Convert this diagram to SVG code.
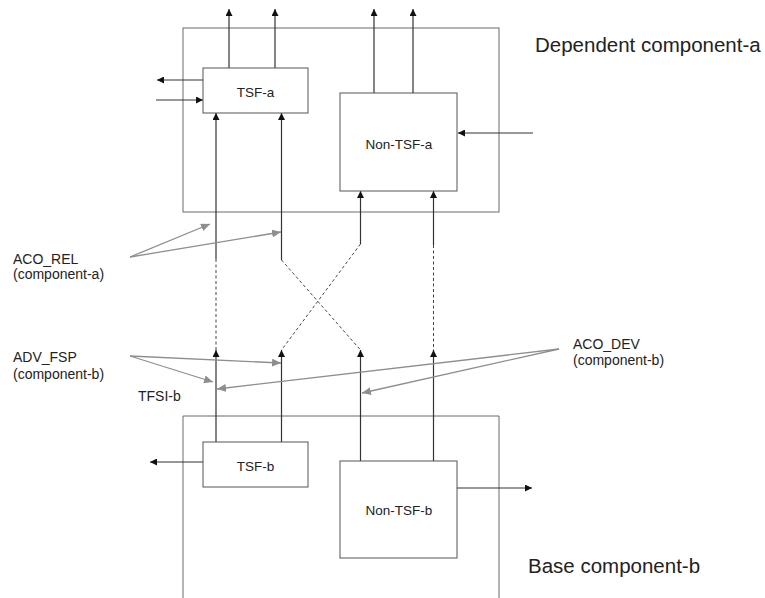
<svg xmlns="http://www.w3.org/2000/svg" width="765" height="598" viewBox="0 0 765 598">
<style>
.frame{fill:none;stroke:#6a6a6a;stroke-width:1}
.box{fill:#fff;stroke:#555;stroke-width:1}
.ln{fill:none;stroke:#333;stroke-width:1.2}
.arr{fill:none;stroke:#333;stroke-width:1.2;marker-end:url(#ah)}
.dash{fill:none;stroke:#444;stroke-width:1;stroke-dasharray:3,2.5}
.ann{fill:none;stroke:#8e8e8e;stroke-width:1.3;marker-end:url(#ag)}
.t{font-family:"Liberation Sans",Arial,sans-serif;fill:#222}
.bl{font-size:13.5px;text-anchor:middle}
.al{font-size:14px}
.big{font-size:20.5px}
</style>
<defs>
<marker id="ah" markerUnits="userSpaceOnUse" markerWidth="8" markerHeight="7" refX="7" refY="3.5" orient="auto"><path d="M0,0 L7,3.5 L0,7 z" fill="#111"/></marker>
<marker id="ag" markerUnits="userSpaceOnUse" markerWidth="10" markerHeight="8" refX="9" refY="4" orient="auto"><path d="M0,0 L9,4 L0,8 z" fill="#8e8e8e"/></marker>
</defs>
<g id="component-a">
<rect class="frame" x="183" y="28" width="316" height="184"/>
<text class="t big" x="535" y="52">Dependent component-a</text>
</g>
<g id="component-b">
<path class="frame" d="M183,598 V416 H499 V598"/>
<text class="t big" x="528" y="573">Base component-b</text>
</g>
<g id="connectors">
<!-- TSF-a outputs up -->
<line class="arr" x1="229" y1="68" x2="229" y2="9"/>
<line class="arr" x1="275" y1="68" x2="275" y2="9"/>
<!-- Non-TSF-a outputs up -->
<line class="arr" x1="374" y1="93" x2="374" y2="9"/>
<line class="arr" x1="413" y1="93" x2="413" y2="9"/>
<!-- TSF-a left -->
<line class="arr" x1="203" y1="80" x2="157" y2="80"/>
<line class="arr" x1="156" y1="100" x2="203" y2="100"/>
<!-- Non-TSF-a right input -->
<line class="arr" x1="533" y1="133" x2="458" y2="133"/>
<!-- into TSF-a bottom -->
<line class="arr" x1="216" y1="259" x2="216" y2="113"/>
<line class="arr" x1="281.5" y1="260" x2="281.5" y2="113"/>
<!-- into Non-TSF-a bottom -->
<line class="arr" x1="360.5" y1="244" x2="360.5" y2="191"/>
<line class="arr" x1="433.5" y1="245" x2="433.5" y2="191"/>
<!-- dashed links -->
<line class="dash" x1="216" y1="259" x2="216" y2="350"/>
<line class="dash" x1="433.5" y1="245" x2="433.5" y2="350"/>
<line class="dash" x1="281.5" y1="260" x2="360.5" y2="350"/>
<line class="dash" x1="360.5" y1="244" x2="281.5" y2="350"/>
<!-- from b boxes up -->
<line class="arr" x1="216" y1="442" x2="216" y2="350"/>
<line class="arr" x1="281.5" y1="442" x2="281.5" y2="350"/>
<line class="arr" x1="360.5" y1="461" x2="360.5" y2="350"/>
<line class="arr" x1="433.5" y1="461" x2="433.5" y2="350"/>
<!-- TSF-b left output -->
<line class="arr" x1="203" y1="462" x2="150" y2="462"/>
<!-- Non-TSF-b right output -->
<line class="arr" x1="457" y1="488" x2="532" y2="488"/>
<!-- annotations -->
<line class="ann" x1="130" y1="257" x2="210" y2="224"/>
<line class="ann" x1="130" y1="257" x2="281" y2="232"/>
<line class="ann" x1="130" y1="356" x2="281" y2="363"/>
<line class="ann" x1="130" y1="356" x2="213" y2="382"/>
<line class="ann" x1="559" y1="349" x2="217" y2="389"/>
<line class="ann" x1="559" y1="349" x2="362" y2="393"/>
</g>
<g id="tsf-a">
<rect class="box" x="203" y="68" width="105" height="45"/>
<text class="t bl" x="255.5" y="96.5">TSF-a</text>
</g>
<g id="non-tsf-a">
<rect class="box" x="340" y="93" width="117" height="98"/>
<text class="t bl" x="399" y="149">Non-TSF-a</text>
</g>
<g id="tsf-b">
<rect class="box" x="203" y="442" width="105" height="45"/>
<text class="t bl" x="255.5" y="470.5">TSF-b</text>
</g>
<g id="non-tsf-b">
<rect class="box" x="340" y="461" width="117" height="97"/>
<text class="t bl" x="399" y="515">Non-TSF-b</text>
</g>
<g id="labels">
<text class="t al" x="13" y="263.5">ACO_REL</text>
<text class="t al" x="13" y="278.5">(component-a)</text>
<text class="t al" x="13" y="361.5">ADV_FSP</text>
<text class="t al" x="13" y="378.5">(component-b)</text>
<text class="t al" x="138" y="400.5">TFSI-b</text>
<text class="t al" x="573" y="348.5">ACO_DEV</text>
<text class="t al" x="573" y="365">(component-b)</text>
</g>
</svg>
